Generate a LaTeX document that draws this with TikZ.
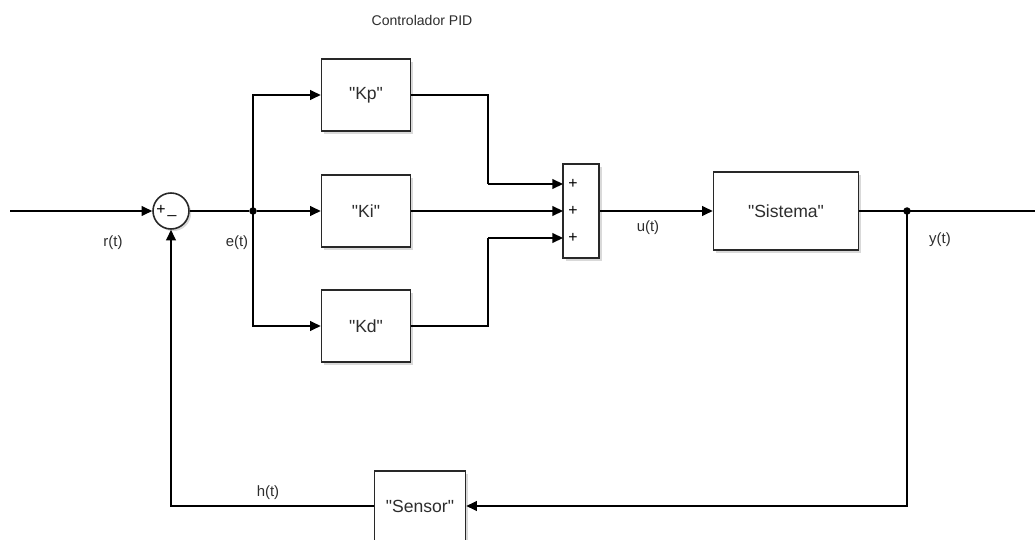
\documentclass[tikz,border=0pt]{standalone}
\usepackage{fontspec}
\setmainfont{Liberation Sans}
\usepackage{xcolor}
\usetikzlibrary{arrows.meta,shadows}
\definecolor{TxtCol}{RGB}{45,45,45}
\definecolor{BoxLine}{RGB}{40,40,40}
\newcommand{\qq}[1]{\textquotedbl#1\textquotedbl}
\tikzset{
  nd_blk/.style={
    rectangle, draw=BoxLine, fill=white, line width=0.9pt,
    drop shadow={shadow xshift=1.6pt,shadow yshift=-1.6pt,opacity=0.3},
    font=\fontsize{10}{12}\selectfont\color{TxtCol}},
  nd_sum/.style={
    circle, draw=BoxLine, fill=white, line width=0.9pt,
    drop shadow={shadow xshift=1.2pt,shadow yshift=-1.2pt,opacity=0.3},
    minimum size=0.72cm, inner sep=0pt},
  nd_add/.style={
    rectangle, draw=BoxLine, fill=white, line width=0.9pt,
    drop shadow={shadow xshift=1.6pt,shadow yshift=-1.6pt,opacity=0.3},
    minimum width=0.72cm, minimum height=1.88cm, inner sep=0pt},
  nd_dot/.style={
    circle, fill=black, minimum size=0.15cm, inner sep=0pt},
  sgn/.style={font=\fontsize{9}{10}\selectfont, inner sep=0pt},
  lbl/.style={font=\fontsize{8.5}{10}\selectfont\color{TxtCol}, inner sep=0pt},
  ttl/.style={font=\fontsize{8}{9.6}\selectfont\color{TxtCol}, inner sep=0pt},
  arr/.style={-{Triangle[length=6pt,width=5.5pt]}, line width=0.85pt},
  ln/.style={line width=0.85pt},
}

\begin{document}
\begin{tikzpicture}[x=0.02cm,y=-0.02cm]
\useasboundingbox (0,0) rectangle (1035,540);

%% title
\node[ttl] at (422,20) (T){Controlador PID};

%% blocks
\node[nd_sum] at (171,211) (S){};
\node[nd_blk,minimum width=1.78cm,minimum height=1.44cm] at (366,95)  (Kp){\qq{Kp}};
\node[nd_blk,minimum width=1.78cm,minimum height=1.44cm] at (366,211) (Ki){\qq{Ki}};
\node[nd_blk,minimum width=1.78cm,minimum height=1.44cm] at (366,326) (Kd){\qq{Kd}};
\node[nd_add] at (581,211) (A){};
\node[nd_blk,minimum width=2.9cm,minimum height=1.56cm] at (786,211) (G){\qq{Sistema}};
\node[nd_blk,minimum width=1.82cm,minimum height=1.4cm] at (420,506) (H){\qq{Sensor}};

%% signs
\node[sgn] at (161,210) (s1){+};
\node[sgn] at (172,215) (s2){\_};
\node[sgn] at (573,184) (a1){+};
\node[sgn] at (573,211) (a2){+};
\node[sgn] at (573,238) (a3){+};

%% branch points and ends
\node[nd_dot] at (253,211) (eD){};
\node[nd_dot] at (907,211) (yD){};
\coordinate (rIn)  at (10,211);
\coordinate (yOut) at (1035,211);
\coordinate (p1) at (563,184);
\coordinate (p2) at (563,211);
\coordinate (p3) at (563,238);
\coordinate (kpC) at (488,184);
\coordinate (kdC) at (488,238);

%% signal labels
\node[lbl] at (113,243) (r){r(t)};
\node[lbl] at (237,243) (e){e(t)};
\node[lbl] at (648,228) (u){u(t)};
\node[lbl] at (940,240) (y){y(t)};
\node[lbl] at (268,493) (h){h(t)};

%% arrows
\draw[arr] (rIn)--(S.west);
\draw[ln] (S.east)--(eD);
\draw[arr] (eD.center) |- (Kp.west);
\draw[arr] (eD)--(Ki.west);
\draw[arr] (eD.center) |- (Kd.west);

\draw[ln] (Kp.east) -| (kpC); \draw[arr] (kpC)--(p1);
\draw[arr] (Ki.east)--(p2);
\draw[ln] (Kd.east) -| (kdC); \draw[arr] (kdC)--(p3);

\draw[arr] (A.east)--(G.west);
\draw[ln] (G.east)--(yOut);

\draw[arr] (yD.center) |- (H.east);
\draw[arr] (H.west) -| (S.south);

\end{tikzpicture}
\end{document}
